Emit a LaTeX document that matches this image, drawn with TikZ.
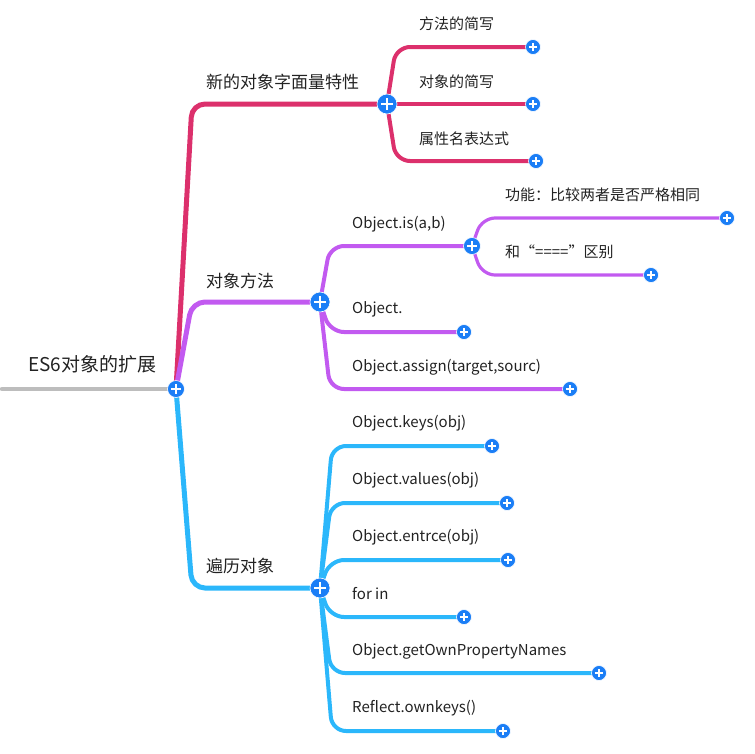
\documentclass[tikz,border=0pt]{standalone}
\usepackage{fontspec}
\setmainfont{Noto Sans CJK SC}
\usetikzlibrary{calc}
\definecolor{crim}{HTML}{DC306C}
\definecolor{purp}{HTML}{C25AF0}
\definecolor{sky}{HTML}{2BB7FB}
\definecolor{circ}{HTML}{1B7EF6}
\definecolor{rootgray}{HTML}{BDBDBD}
\definecolor{txt}{HTML}{222222}
\pgfdeclarelayer{bg}
\pgfsetlayers{bg,main}
\tikzset{
  plusnode/.style={circle, fill=circ, draw=white, line width=0.6pt, inner sep=0pt, minimum size=#1,
    path picture={\draw[white, line width=1.9pt]
      ([xshift=-0.28*#1]path picture bounding box.center) -- ([xshift=0.28*#1]path picture bounding box.center)
      ([yshift=-0.28*#1]path picture bounding box.center) -- ([yshift=0.28*#1]path picture bounding box.center);}},
  bigplus/.style={plusnode=20pt},
  midplus/.style={plusnode=17pt},
  leafplus/.style={plusnode=15pt},
  roottxt/.style={anchor=west, inner sep=0pt, text=txt, font=\fontsize{19}{21}\selectfont},
  maintxt/.style={anchor=west, inner sep=0pt, text=txt, font=\fontsize{17}{19}\selectfont},
  subtxt/.style={anchor=west, inner sep=0pt, text=txt, font=\fontsize{15}{17}\selectfont},
  mainline/.style={line width=5pt, rounded corners=13pt},
  subline/.style={line width=4pt, rounded corners=14pt},
  thinline/.style={line width=3.2pt, rounded corners=13pt},
}
\newcommand{\mmlink}[4]{\draw[#4] (#1.center) -- ($(#1.center |- #2.center)+(#3,0)$) -- (#2.center);}
\begin{document}
\begin{tikzpicture}[x=1pt,y=-1pt]
\useasboundingbox (0,0) rectangle (755,753);
% circles
\node[midplus] (root) at (176,389) {};
\node[bigplus] (b1) at (387,104) {};
\node[bigplus] (b2) at (320,302) {};
\node[bigplus] (b3) at (320,588) {};
\node[leafplus] (l11) at (533,47) {};
\node[leafplus] (l12) at (533,104) {};
\node[leafplus] (l13) at (536,161) {};
\node[midplus] (c21) at (472,246) {};
\node[leafplus] (l211) at (727,218) {};
\node[leafplus] (l212) at (651,275) {};
\node[leafplus] (l22) at (464,332) {};
\node[leafplus] (l23) at (570,389) {};
\node[leafplus] (l31) at (492,446) {};
\node[leafplus] (l32) at (507,503) {};
\node[leafplus] (l33) at (508,560) {};
\node[leafplus] (l34) at (464,617) {};
\node[leafplus] (l35) at (599,673) {};
\node[leafplus] (l36) at (503,731) {};
% texts
\node[roottxt] (troot) at (28,364) {ES6对象的扩展};
\node[maintxt] (t1) at (206,82) {新的对象字面量特性};
\node[subtxt] (t11) at (419,24) {方法的简写};
\node[subtxt] (t12) at (419,82) {对象的简写};
\node[subtxt] (t13) at (419,139) {属性名表达式};
\node[maintxt] (t2) at (206,281) {对象方法};
\node[subtxt] (t21) at (352,224) {Object.is(a,b)};
\node[subtxt] (t211) at (505,195) {功能：比较两者是否严格相同};
\node[subtxt] (t212) at (505,252) {和“====”区别};
\node[subtxt] (t22) at (352,309) {Object.};
\node[subtxt] (t23) at (352,367) {Object.assign(target,sourc)};
\node[maintxt] (t3) at (206,566) {遍历对象};
\node[subtxt] (t31) at (352,423) {Object.keys(obj)};
\node[subtxt] (t32) at (352,480) {Object.values(obj)};
\node[subtxt] (t33) at (352,537) {Object.entrce(obj)};
\node[subtxt] (t34) at (352,594) {for in};
\node[subtxt] (t35) at (352,651) {Object.getOwnPropertyNames};
\node[subtxt] (t36) at (352,708) {Reflect.ownkeys()};
\coordinate (rootstart) at (2,389);
\begin{pgfonlayer}{bg}
\draw[rootgray, line width=4.5pt, line cap=round] (rootstart) -- (root.center);
% branch 1
\mmlink{root}{b1}{16}{crim, mainline}
\mmlink{b1}{l11}{9}{crim, subline}
\draw[crim, line width=4pt] (b1.center) -- (l12.center);
\mmlink{b1}{l13}{9}{crim, subline}
% branch 2
\mmlink{root}{b2}{16}{purp, mainline}
\mmlink{b2}{c21}{10}{purp, subline}
\mmlink{c21}{l211}{10}{purp, thinline}
\mmlink{c21}{l212}{10}{purp, thinline}
\mmlink{b2}{l22}{10}{purp, subline}
\mmlink{b2}{l23}{10}{purp, subline}
% branch 3
\mmlink{root}{b3}{16}{sky, mainline}
\mmlink{b3}{l31}{12}{sky, subline}
\mmlink{b3}{l32}{11}{sky, subline}
\mmlink{b3}{l33}{10}{sky, subline}
\mmlink{b3}{l34}{10}{sky, subline}
\mmlink{b3}{l35}{11}{sky, subline}
\mmlink{b3}{l36}{12}{sky, subline}
\end{pgfonlayer}
\end{tikzpicture}
\end{document}
